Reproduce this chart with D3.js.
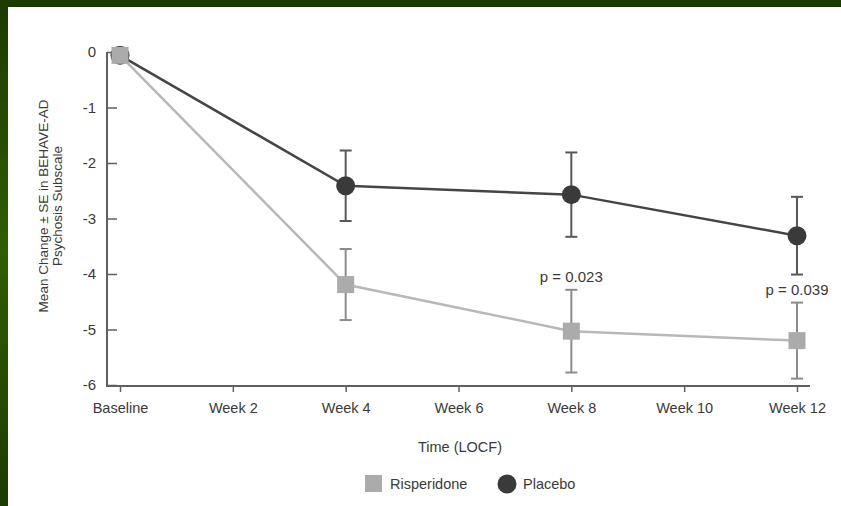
<!DOCTYPE html>
<html>
<head>
<meta charset="utf-8">
<script src="https://cdn.jsdelivr.net/npm/d3@7"></script>
<style>
  body { margin: 0; background: #fff; }
  text { font-family: "Liberation Sans", Arial, sans-serif; fill: #3a3a3a; }
</style>
</head>
<body>
<script>
// data
const weeks = [0, 4, 8, 12];
const tickWeeks = [0, 2, 4, 6, 8, 10, 12];
const tickLabels = ["Baseline", "Week 2", "Week 4", "Week 6", "Week 8", "Week 10", "Week 12"];
const yTicks = [0, -1, -2, -3, -4, -5, -6];

const placeboMean = [-0.06, -2.41, -2.57, -3.31];
const placeboSE = [0, 0.635, 0.76, 0.70];
const risperidoneMean = [-0.06, -4.19, -5.03, -5.20];
const risperidoneSE = [0, 0.64, 0.745, 0.685];

const pWeeks = [8, 12];
const pTexts = ["p = 0.023", "p = 0.039"];

const seriesNames = ["Risperidone", "Placebo"];

const wSvg = 841, hSvg = 506;

const svg = d3.select("body").append("svg")
    .attr("width", wSvg)
    .attr("height", hSvg);

// green frame
const defs = svg.append("defs");
const grad = defs.append("linearGradient")
    .attr("id", "frameGrad")
    .attr("x1", 0).attr("y1", 0).attr("x2", 0).attr("y2", 1);
grad.append("stop").attr("offset", "0%").attr("stop-color", "#1d3a00");
grad.append("stop").attr("offset", "50%").attr("stop-color", "#2f5e00");
grad.append("stop").attr("offset", "100%").attr("stop-color", "#1d3a00");

defs.append("clipPath").attr("id", "plotClip")
    .append("rect").attr("x", 0).attr("y", 0).attr("width", 828).attr("height", hSvg);

svg.append("rect").attr("width", wSvg).attr("height", hSvg).attr("fill", "#fff");
svg.append("rect").attr("x", 0).attr("y", 0).attr("width", 8).attr("height", hSvg)
    .attr("fill", "url(#frameGrad)");
svg.append("rect").attr("x", 0).attr("y", 0).attr("width", wSvg).attr("height", 7)
    .attr("fill", "#1d3a00");

const g = svg.append("g").attr("clip-path", "url(#plotClip)");

let x = d3.scaleLinear().domain([0, 12]).range([120, 797]);
let y = d3.scaleLinear().domain([0, -6]).range([52, 385]);

const axisColor = "#606060";

// y axis
let yAxis = d3.axisLeft(y)
    .tickValues(yTicks)
    .tickFormat(d => String(d))
    .tickSizeInner(-10)
    .tickSizeOuter(0)
    .tickPadding(11);
let gy = g.append("g")
    .attr("transform", "translate(107,0)")
    .call(yAxis);
gy.select(".domain").remove();
gy.selectAll("line").attr("stroke", axisColor).attr("stroke-width", 1.5);
gy.selectAll("text").style("font-size", "15px").attr("fill", "#3a3a3a");

// x axis
let xAxis = d3.axisBottom(x)
    .tickValues(tickWeeks)
    .tickFormat((d, i) => tickLabels[i])
    .tickSizeInner(6)
    .tickSizeOuter(0)
    .tickPadding(11);
let gx = g.append("g")
    .attr("transform", "translate(0,386)")
    .call(xAxis);
gx.select(".domain").remove();
gx.selectAll("line").attr("stroke", axisColor).attr("stroke-width", 1.5);
gx.selectAll("text").style("font-size", "14.5px").attr("fill", "#3a3a3a");

// axis lines
g.append("line")
    .attr("x1", 107).attr("x2", 107)
    .attr("y1", y(0)).attr("y2", 386.5)
    .attr("stroke", axisColor).attr("stroke-width", 2);
g.append("line")
    .attr("x1", 106).attr("x2", 810)
    .attr("y1", 386).attr("y2", 386)
    .attr("stroke", axisColor).attr("stroke-width", 2);

// axis titles
svg.append("text")
    .attr("x", 460).attr("y", 452)
    .attr("text-anchor", "middle")
    .style("font-size", "14.5px")
    .text("Time (LOCF)");

const yTitle = svg.append("text")
    .attr("transform", "translate(48,206) rotate(-90)")
    .attr("text-anchor", "middle")
    .style("font-size", "13.5px");
yTitle.append("tspan").attr("x", 0).attr("y", 0).text("Mean Change \u00B1 SE in BEHAVE-AD");
yTitle.append("tspan").attr("x", 0).attr("y", 14).text("Psychosis Subscale");

// series
let placebo = weeks.map((w, i) => ({ w: w, m: placeboMean[i], se: placeboSE[i] }));
let risperidone = weeks.map((w, i) => ({ w: w, m: risperidoneMean[i], se: risperidoneSE[i] }));

let line = d3.line().x(d => x(d.w)).y(d => y(d.m));

g.append("path").datum(placebo)
    .attr("d", line)
    .attr("fill", "none")
    .attr("stroke", "#454545")
    .attr("stroke-width", 2.5);
g.append("path").datum(risperidone)
    .attr("d", line)
    .attr("fill", "none")
    .attr("stroke", "#b8b8b8")
    .attr("stroke-width", 2.5);

function errorBars(data, color) {
    let eb = g.append("g")
        .selectAll("g")
        .data(data.filter(d => d.se > 0))
        .enter()
        .append("g")
        .attr("stroke", color)
        .attr("stroke-width", 2);
    eb.append("line")
        .attr("x1", d => x(d.w)).attr("x2", d => x(d.w))
        .attr("y1", d => y(d.m + d.se)).attr("y2", d => y(d.m - d.se));
    eb.append("line")
        .attr("x1", d => x(d.w) - 6).attr("x2", d => x(d.w) + 6)
        .attr("y1", d => y(d.m + d.se)).attr("y2", d => y(d.m + d.se));
    eb.append("line")
        .attr("x1", d => x(d.w) - 6).attr("x2", d => x(d.w) + 6)
        .attr("y1", d => y(d.m - d.se)).attr("y2", d => y(d.m - d.se));
}
errorBars(placebo, "#585858");
errorBars(risperidone, "#8c8c8c");

g.append("g").selectAll("circle")
    .data(placebo)
    .enter()
    .append("circle")
    .attr("cx", d => x(d.w))
    .attr("cy", d => y(d.m))
    .attr("r", 9.5)
    .attr("fill", "#3a3a3a");

g.append("g").selectAll("rect")
    .data(risperidone)
    .enter()
    .append("rect")
    .attr("x", d => x(d.w) - 8.5)
    .attr("y", d => y(d.m) - 8.5)
    .attr("width", 17)
    .attr("height", 17)
    .attr("fill", "#ababab");

// p-values above the risperidone error bars
g.append("g").selectAll("text")
    .data(pWeeks)
    .enter()
    .append("text")
    .attr("x", d => x(d))
    .attr("y", (d, i) => {
        let k = weeks.indexOf(d);
        return y(risperidoneMean[k] + risperidoneSE[k]) - 8;
    })
    .attr("text-anchor", "middle")
    .style("font-size", "15px")
    .text((d, i) => pTexts[i]);

// legend
let leg = svg.append("g");
leg.append("rect")
    .attr("x", 365).attr("y", 475)
    .attr("width", 17).attr("height", 17)
    .attr("fill", "#ababab");
leg.append("text")
    .attr("x", 390).attr("y", 489)
    .style("font-size", "14.5px")
    .text(seriesNames[0]);
leg.append("circle")
    .attr("cx", 507).attr("cy", 484)
    .attr("r", 9.5)
    .attr("fill", "#3a3a3a");
leg.append("text")
    .attr("x", 523).attr("y", 489)
    .style("font-size", "14.5px")
    .text(seriesNames[1]);
</script>
</body>
</html>
